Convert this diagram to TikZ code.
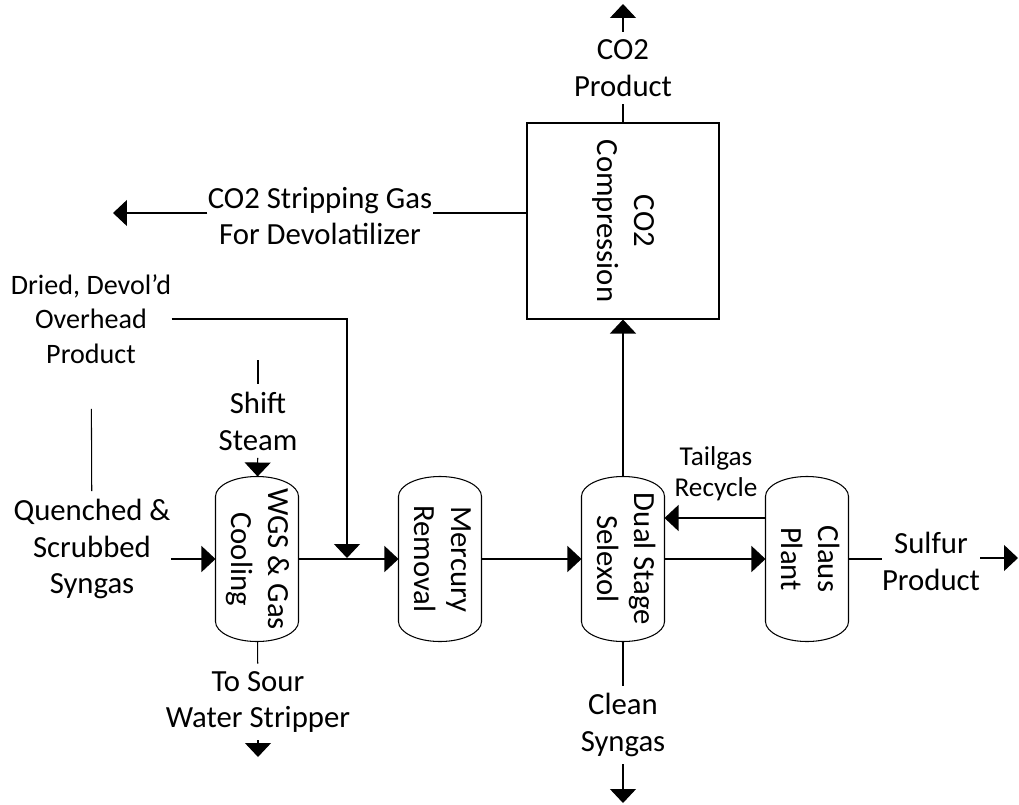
\documentclass[tikz,border=0pt]{standalone}
\usepackage{fontspec}
\setmainfont{Carlito}
\usepackage{graphicx}
\usetikzlibrary{arrows.meta,calc}
\newcommand{\rottext}[2]{\rotatebox{-90}{\begin{tabular}{@{}c@{}}#1\\#2\end{tabular}}}

\begin{document}
\begin{tikzpicture}[x=0.02cm,y=-0.02cm,line width=0.6pt,
  >={Triangle[width=0.52cm,length=0.28cm]},
  every node/.style={font=\fontsize{17.5}{21}\selectfont},
  lbl/.style={align=center,inner xsep=0pt,inner ysep=4pt},
  small/.style={font=\fontsize{16}{19.5}\selectfont},
  smaller/.style={font=\fontsize{15.5}{17.5}\selectfont},
  vessel/.style={minimum width=1.64cm,minimum height=3.28cm,inner sep=0pt}]
  \useasboundingbox (0,0) rectangle (1019,805);

  % units
  \node[vessel] (wgs)   at (257,559) {\rottext{WGS \& Gas}{Cooling}};
  \node[vessel] (merc)  at (440,559) {\rottext{Mercury}{Removal}};
  \node[vessel] (selx)  at (623,559) {\rottext{Dual Stage}{Selexol}};
  \node[vessel] (claus) at (807,559) {\rottext{Claus}{Plant}};
  \foreach \n in {wgs,merc,selx,claus}
    \draw ($(\n.north west)+(0,20)$) .. controls ($(\n.north west)+(0,9)$) and ($(\n.north)+(-23,0)$) .. (\n.north)
      .. controls ($(\n.north)+(23,0)$) and ($(\n.north east)+(0,9)$) .. ($(\n.north east)+(0,20)$)
      -- ($(\n.south east)+(0,-20)$)
      .. controls ($(\n.south east)+(0,-9)$) and ($(\n.south)+(23,0)$) .. (\n.south)
      .. controls ($(\n.south)+(-23,0)$) and ($(\n.south west)+(0,-9)$) .. ($(\n.south west)+(0,-20)$) -- cycle;
  \node[draw,minimum width=3.84cm,minimum height=3.92cm] (co2box) at (623,221) {\rottext{CO2}{Compression}};

  % stream labels
  \node[lbl] (co2prod) at (623,68) {CO2\\Product};
  \node[lbl] (strip) at (320,216) {CO2 Stripping Gas\\For Devolatilizer};
  \node[lbl,small] (dried) at (91,319) {Dried, Devol’d\\Overhead\\Product};
  \node[lbl] (quench) at (92,549) {Quenched \&\\Scrubbed\\Syngas};
  \node[lbl] (shift) at (258,421) {Shift\\Steam};
  \node[lbl] (sour) at (258,702) {To Sour\\Water Stripper};
  \node[lbl] (clean) at (623,725) {Clean\\Syngas};
  \node[lbl] (sulfur) at (931,561) {Sulfur\\Product};
  \node[lbl,smaller] (tailgas) at (716,474) {Tailgas\\Recycle};

  \coordinate (co2out) at (623,4);
  \coordinate (stripout) at (113,213);
  \coordinate (mix) at (347,558);
  \coordinate (shiftin) at (258,360);
  \coordinate (sourout) at (258,757);
  \coordinate (cleanout) at (623,803);
  \coordinate (sulfout) at (1018,558);

  % streams
  \draw[->] (quench.east |- wgs) -- (wgs);
  \draw[shorten <=0.76cm] (dried) -- (quench);
  \draw[->] (dried.east) -| (mix);
  \draw (shiftin) -- (shift);
  \draw[->] (shift) -- (wgs);
  \draw (wgs) -- (sour);
  \draw[->] (sour) -- (sourout);
  \draw[->] (wgs) -- (merc);
  \draw[->] (merc) -- (selx);
  \draw[->] (selx) -- (claus);
  \draw[->] ($(claus.west)+(0,-41)$) -- ($(selx.east)+(0,-41)$);
  \draw (claus.east) -- (claus.east -| sulfur.west);
  \draw[->] (sulfur.east |- sulfout) -- (sulfout);
  \draw[->] (selx) -- (co2box);
  \draw (selx) -- (clean);
  \draw[->] (clean) -- (cleanout);
  \draw (co2box) -- (co2prod);
  \draw[->] (co2prod) -- (co2out);
  \draw (co2box.west |- stripout) -- (strip.east |- stripout);
  \draw[->] (strip.west |- stripout) -- (stripout);
\end{tikzpicture}
\end{document}
